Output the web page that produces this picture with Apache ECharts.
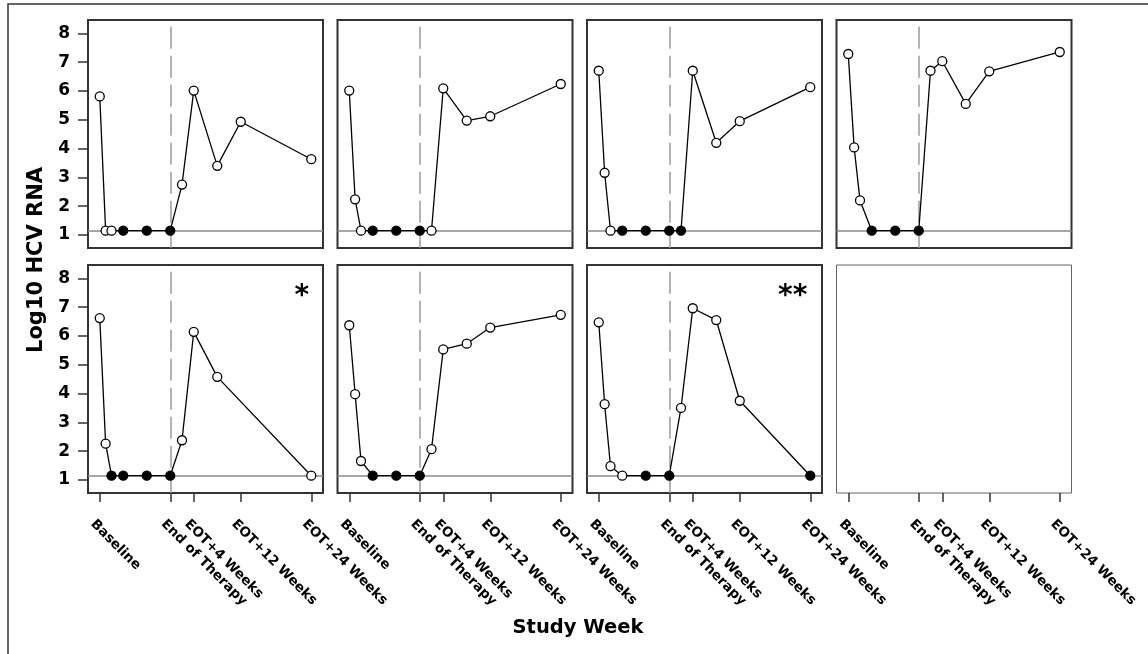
<!DOCTYPE html>
<html><head><meta charset="utf-8">
<script src="https://cdn.jsdelivr.net/npm/echarts@6/dist/echarts.min.js"></script>
<style>html,body{margin:0;padding:0;background:#fff}#c{width:1148px;height:654px}</style>
</head><body><div id="c"></div>
<script>
// ---- data ----
const tickWeeks = [0, 12, 16, 24, 36];
const tickLabels = ['Baseline', 'End of Therapy', 'EOT+4 Weeks', 'EOT+12 Weeks', 'EOT+24 Weeks'];
const yTicks = [1, 2, 3, 4, 5, 6, 7, 8];
const LLOQ = 1.15;
const EOT_WEEK = 12;
const weeksA = [0, 1, 2, 4, 8, 12, 14, 16, 20, 24, 36];
const weeksB = [0, 1, 2, 4, 8, 12, 14, 16, 20, 36];

const p1Values = [5.81, 1.15, 1.15, 1.15, 1.15, 1.15, 2.75, 6.01, 3.40, 4.93, 3.63];
const p1Filled = [0, 0, 0, 1, 1, 1, 0, 0, 0, 0, 0];
const p2Values = [6.01, 2.24, 1.15, 1.15, 1.15, 1.15, 1.15, 6.09, 4.97, 5.12, 6.24];
const p2Filled = [0, 0, 0, 1, 1, 1, 0, 0, 0, 0, 0];
const p3Values = [6.70, 3.16, 1.15, 1.15, 1.15, 1.15, 1.15, 6.70, 4.20, 4.95, 6.13];
const p3Filled = [0, 0, 0, 1, 1, 1, 1, 0, 0, 0, 0];
const p4Values = [7.28, 4.04, 2.20, 1.15, 1.15, 1.15, 6.70, 7.03, 5.55, 6.68, 7.35];
const p4Filled = [0, 0, 0, 1, 1, 1, 0, 0, 0, 0, 0];
const p5Values = [6.62, 2.26, 1.15, 1.15, 1.15, 1.15, 2.38, 6.14, 4.58, 1.15];
const p5Filled = [0, 0, 1, 1, 1, 1, 0, 0, 0, 0];
const p6Values = [6.37, 3.98, 1.66, 1.15, 1.15, 1.15, 2.07, 5.53, 5.73, 6.29, 6.73];
const p6Filled = [0, 0, 0, 1, 1, 1, 0, 0, 0, 0, 0];
const p7Values = [6.47, 3.63, 1.48, 1.15, 1.15, 1.15, 3.50, 6.96, 6.55, 3.75, 1.15];
const p7Filled = [0, 0, 0, 0, 1, 1, 0, 0, 0, 0, 1];
const panelNotes = ['', '', '', '', '*', '', '**', ''];
const noteWeeks = [0, 0, 0, 0, 34.4, 0, 33.0, 0];
const noteValue = 7.35;

const panelWeeks = [weeksA, weeksA, weeksA, weeksA, weeksB, weeksA, weeksA];
const panelValues = [p1Values, p2Values, p3Values, p4Values, p5Values, p6Values, p7Values];
const panelFilled = [p1Filled, p2Filled, p3Filled, p4Filled, p5Filled, p6Filled, p7Filled];

// ---- layout ----
const FONT = 'DejaVu Sans';
const X_MIN = -2, X_MAX = 38, Y_MIN = 0.55, Y_MAX = 8.46;
const colLeft = [88, 337.5, 587, 836.5];
const rowTop = [20, 265];
const PW = 235, PH = 228;

const grids = [], xAxes = [], yAxes = [], series = [];
for (let i = 0; i < 8; i++) {
  const r = Math.floor(i / 4), c = i % 4;
  grids.push({
    left: colLeft[c], top: rowTop[r], width: PW, height: PH,
    show: true, backgroundColor: '#fff',
    borderColor: i === 7 ? '#666' : '#333', borderWidth: i === 7 ? 1 : 2
  });
  const bottom = r === 1;
  xAxes.push({
    type: 'value', gridIndex: i, min: X_MIN, max: X_MAX, position: 'bottom',
    axisLine: { show: false, onZero: false }, splitLine: { show: false },
    axisTick: { show: bottom, customValues: tickWeeks, length: 9, lineStyle: { color: '#333', width: 1.5 } },
    axisLabel: {
      show: bottom, customValues: tickWeeks, rotate: -45, margin: 22,
      verticalAlign: 'top', padding: [3, 0, 0, 0],
      fontFamily: FONT, fontWeight: 'bold', fontSize: 13.5, color: '#000',
      formatter: v => tickLabels[tickWeeks.indexOf(v)] || ''
    }
  });
  const left = c === 0;
  yAxes.push({
    type: 'value', gridIndex: i, min: Y_MIN, max: Y_MAX, position: 'left',
    axisLine: { show: false, onZero: false }, splitLine: { show: false },
    axisTick: { show: left, customValues: yTicks, length: 10, lineStyle: { color: '#333', width: 1.5 } },
    axisLabel: {
      show: left, customValues: yTicks, margin: 18,
      fontFamily: FONT, fontWeight: 'bold', fontSize: 17, color: '#000'
    }
  });
}

for (let i = 0; i < 7; i++) {
  const data = panelWeeks[i].map((w, k) => ({
    value: [w, panelValues[i][k]],
    itemStyle: { color: panelFilled[i][k] ? '#000' : '#fff', borderColor: '#000', borderWidth: 1.3 }
  }));
  series.push({
    type: 'line', xAxisIndex: i, yAxisIndex: i, data,
    symbol: 'circle', symbolSize: 9, showAllSymbol: true,
    lineStyle: { color: '#000', width: 1.3 }, z: 5,
    animation: false, silent: true,
    markLine: {
      silent: true, symbol: ['none', 'none'], label: { show: false }, z: 1,
      data: [
        { yAxis: LLOQ, lineStyle: { color: '#8a8a8a', width: 1.5, type: 'solid' } },
        [{ coord: [EOT_WEEK, 8.23] }, { coord: [EOT_WEEK, Y_MIN], lineStyle: { color: '#9a9a9a', width: 1.5, type: [22, 7] } }]
      ]
    }
  });
}

const chart = echarts.init(document.getElementById('c'), null, { renderer: 'canvas' });
chart.setOption({
  animation: false,
  backgroundColor: '#fff',
  grid: grids, xAxis: xAxes, yAxis: yAxes, series
});

const graphics = [
  { type: 'rect', silent: true, z: -10, shape: { x: 8, y: 4, width: 1200, height: 700 }, style: { fill: 'none', stroke: '#333', lineWidth: 1.5 } },
  { type: 'text', x: 37, y: 260, rotation: Math.PI / 2, style: { text: 'Log10 HCV RNA', fontFamily: FONT, fontWeight: 'bold', fontSize: 21, fill: '#000', align: 'center', verticalAlign: 'middle' } },
  { type: 'text', x: 578, y: 628, style: { text: 'Study Week', fontFamily: FONT, fontWeight: 'bold', fontSize: 19.5, fill: '#000', align: 'center', verticalAlign: 'middle' } }
];
panelNotes.forEach((t, i) => {
  if (!t) return;
  const p = chart.convertToPixel({ gridIndex: i }, [noteWeeks[i], noteValue]);
  graphics.push({ type: 'text', x: p[0], y: p[1], z: 20, style: { text: t, fontFamily: FONT, fontWeight: 'bold', fontSize: 28, fill: '#000', align: 'center', verticalAlign: 'middle' } });
});
chart.setOption({ graphic: graphics });
</script></body></html>
